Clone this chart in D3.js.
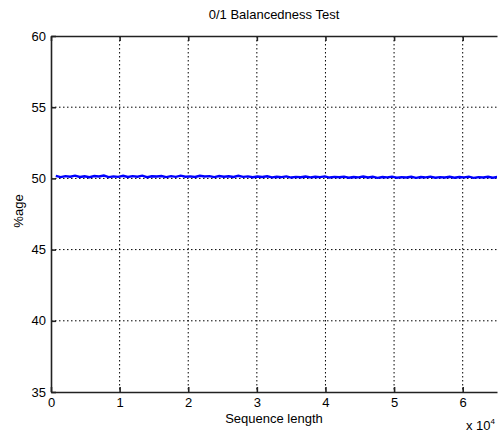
<!DOCTYPE html>
<html>
<head>
<meta charset="utf-8">
<script src="https://cdn.jsdelivr.net/npm/d3@7"></script>
<style>
  html, body { margin: 0; padding: 0; background: #fff; }
  svg { display: block; font-family: "Liberation Sans", Arial, sans-serif; }
  .tick-label { font-size: 13px; fill: #000; }
</style>
</head>
<body>
<div id="chart"></div>
<script>
// 0/1 balancedness: percentage of ones vs. sequence length (x 10^4)
const xTicks = [0, 1, 2, 3, 4, 5, 6];
const yTicks = [35, 40, 45, 50, 55, 60];
const seqStep = 0.07; // sample spacing in units of 10^4
const onesPct = [
  50.18, 50.09, 50.16, 50.12, 50.19, 50.10, 50.15, 50.08, 50.17, 50.13,
  50.20, 50.09, 50.14, 50.11, 50.18, 50.10, 50.16, 50.12, 50.19, 50.08,
  50.15, 50.13, 50.17, 50.09, 50.16, 50.11, 50.19, 50.12, 50.14, 50.10,
  50.18, 50.13, 50.16, 50.09, 50.17, 50.12, 50.15, 50.10, 50.18, 50.11,
  50.14, 50.08, 50.13, 50.10, 50.15, 50.07, 50.12, 50.09, 50.14, 50.06,
  50.11, 50.08, 50.13, 50.07, 50.12, 50.09, 50.14, 50.06, 50.11, 50.08,
  50.12, 50.05, 50.10, 50.07, 50.13, 50.06, 50.11, 50.04, 50.10, 50.07,
  50.12, 50.05, 50.09, 50.06, 50.11, 50.04, 50.10, 50.07, 50.12, 50.05,
  50.09, 50.06, 50.11, 50.05, 50.10, 50.07, 50.12, 50.04, 50.09, 50.06,
  50.11, 50.05, 50.10, 50.07, 50.12, 50.05, 50.09, 50.06, 50.11, 50.05
];

(function () {
  const W = 498, H = 433;
  const margin = { top: 36, right: 1, bottom: 41, left: 51 };
  const plotW = W - margin.left - margin.right;
  const plotH = H - margin.top - margin.bottom;

  const svgEl = d3.select("#chart").append("svg")
    .attr("width", W)
    .attr("height", H);

  const svg = svgEl.append("g")
    .attr("transform", `translate(${margin.left},${margin.top})`);

  const x = d3.scaleLinear().domain([0, 6.5]).range([0, plotW]);
  const y = d3.scaleLinear().domain([35, 60]).range([plotH, 0]);

  svgEl.append("defs").append("clipPath").attr("id", "plot-clip")
    .append("rect").attr("width", plotW).attr("height", plotH);

  // grid (dotted)
  const grid = svg.append("g").attr("class", "grid")
    .attr("stroke", "#000").attr("stroke-width", 1)
    .attr("stroke-dasharray", "1.5,2.5");

  grid.selectAll(".gx").data(xTicks.filter(d => d > 0))
    .enter().append("line")
    .attr("x1", d => x(d)).attr("x2", d => x(d))
    .attr("y1", 0).attr("y2", plotH);

  grid.selectAll(".gy").data(yTicks.filter(d => d > 35 && d < 60))
    .enter().append("line")
    .attr("x1", 0).attr("x2", plotW)
    .attr("y1", d => y(d)).attr("y2", d => y(d));

  // data line
  const series = onesPct.map((v, i) => ({ len: (i + 1) * seqStep, pct: v }));
  const lineGen = d3.line().x(d => x(d.len)).y(d => y(d.pct));

  svg.append("path")
    .datum(series)
    .attr("clip-path", "url(#plot-clip)")
    .attr("fill", "none")
    .attr("stroke", "#0000ff")
    .attr("stroke-width", 2.4)
    .attr("d", lineGen);

  // axes (MATLAB style: inward ticks, box)
  const gBottom = svg.append("g")
    .attr("transform", `translate(0,${plotH})`)
    .call(d3.axisBottom(x).tickValues(xTicks).tickSize(-5).tickSizeOuter(0).tickPadding(6)
      .tickFormat(d3.format("d")));
  const gTop = svg.append("g")
    .call(d3.axisTop(x).tickValues(xTicks).tickSize(-5).tickSizeOuter(0).tickFormat(""));
  const gLeft = svg.append("g")
    .call(d3.axisLeft(y).tickValues(yTicks).tickSize(-5).tickSizeOuter(0).tickPadding(5));

  [gBottom, gTop, gLeft].forEach(g => {
    g.select(".domain").attr("stroke", "#222").attr("stroke-width", 1.6);
    g.selectAll(".tick line").attr("stroke", "#222").attr("stroke-width", 1.6);
    g.selectAll(".tick text").attr("class", "tick-label")
      .style("font-family", "Liberation Sans, Arial, sans-serif").style("font-size", "13px");
  });

  // title and labels
  svgEl.append("text")
    .attr("x", margin.left + plotW / 2).attr("y", 19)
    .attr("text-anchor", "middle")
    .style("font-size", "13px")
    .text("0/1 Balancedness Test");

  svgEl.append("text")
    .attr("x", margin.left + plotW / 2).attr("y", 423)
    .attr("text-anchor", "middle")
    .style("font-size", "13px")
    .text("Sequence length");

  svgEl.append("text")
    .attr("transform", `translate(23,${margin.top + plotH / 2 - 3}) rotate(-90)`)
    .attr("text-anchor", "middle")
    .style("font-size", "13px")
    .text("%age");

  // exponent label, kept inside the frame
  const expo = svgEl.append("text")
    .attr("x", 466).attr("y", 430)
    .style("font-size", "13px");
  expo.append("tspan").text("x 10");
  expo.append("tspan").attr("dy", -6).style("font-size", "8px").text("4");
})();
</script>
</body>
</html>
